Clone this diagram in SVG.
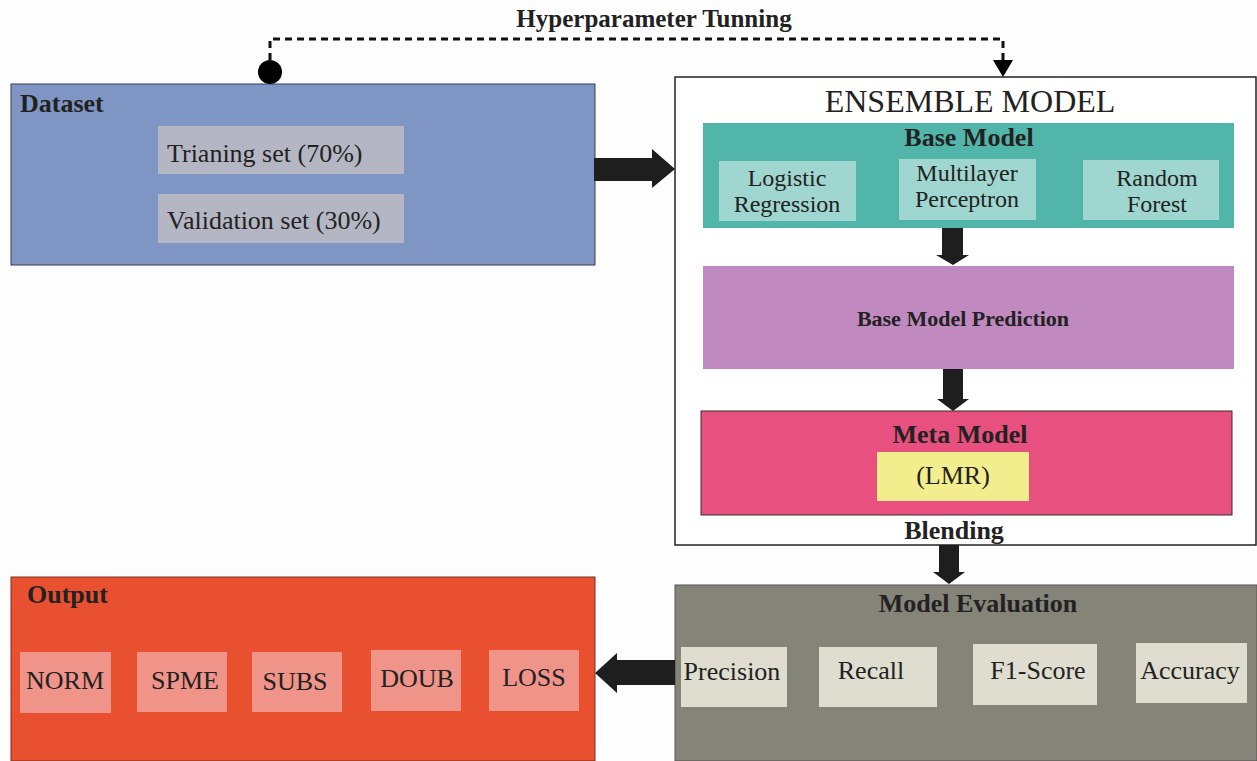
<svg xmlns="http://www.w3.org/2000/svg" width="1257" height="761" viewBox="0 0 1257 761">
<style>
text{font-family:"Liberation Serif","Times New Roman",serif;fill:#222}
.b{font-weight:bold}
.c{text-anchor:middle}
.r26{font-size:26px}
.r24{font-size:24px}
.arrow{fill:#1e1e1e}
</style>
<rect x="0" y="0" width="1257" height="761" fill="#fdfdfd"/>
<g id="dataset">
<rect x="11" y="84" width="584" height="181" fill="#7f96c5" stroke="#3a3a4a" stroke-width="1"/>
<text x="20" y="112" class="b r26">Dataset</text>
<rect x="158" y="126" width="246" height="48" fill="#b4b7c3"/>
<text x="167" y="162" class="r26">Trianing set (70%)</text>
<rect x="158" y="194" width="246" height="49" fill="#b4b7c3"/>
<text x="167" y="229" class="r26">Validation set (30%)</text>
</g>
<g id="ensemble">
<rect x="675" y="77" width="581" height="468" fill="#ffffff" stroke="#222" stroke-width="1.5"/>
<text x="970" y="112" class="c" font-size="32">ENSEMBLE MODEL</text>
</g>
<g id="base-model">
<rect x="703" y="123" width="531" height="105" fill="#52b5a9"/>
<text x="969" y="146" class="b c r26">Base Model</text>
<rect x="719" y="161" width="137" height="60" fill="#9fd6cf"/>
<text x="787" y="186" class="c r24">Logistic</text>
<text x="787" y="212" class="c r24">Regression</text>
<rect x="899" y="159" width="137" height="61" fill="#9fd6cf"/>
<text x="967" y="181" class="c r24">Multilayer</text>
<text x="967" y="207" class="c r24">Perceptron</text>
<rect x="1083" y="160" width="136" height="60" fill="#9fd6cf"/>
<text x="1157" y="186" class="c r24">Random</text>
<text x="1157" y="212" class="c r24">Forest</text>
</g>
<g id="prediction">
<rect x="703" y="266" width="531" height="103" fill="#c08ac0"/>
<text x="963" y="326" class="b c" font-size="22">Base Model Prediction</text>
</g>
<g id="meta-model">
<rect x="701" y="411" width="531" height="104" fill="#e8507f" stroke="#3a2a30" stroke-width="1"/>
<text x="960" y="443" class="b c r26">Meta Model</text>
<rect x="877" y="452" width="152" height="49" fill="#f2ee8d"/>
<text x="953" y="484" class="c r26">(LMR)</text>
</g>
<g id="evaluation">
<rect x="675" y="585" width="582" height="176" fill="#858479" stroke="#555" stroke-width="1"/>
<text x="978" y="612" class="b c r26">Model Evaluation</text>
<rect x="681" y="647" width="106" height="60" fill="#deddd0"/>
<text x="732" y="680" class="c r26">Precision</text>
<rect x="819" y="647" width="118" height="60" fill="#deddd0"/>
<text x="871" y="679" class="c r26">Recall</text>
<rect x="973" y="644" width="124" height="61" fill="#deddd0"/>
<text x="1038" y="679" class="c r26">F1-Score</text>
<rect x="1136" y="643" width="111" height="60" fill="#deddd0"/>
<text x="1190" y="679" class="c r26">Accuracy</text>
</g>
<g id="output">
<rect x="11" y="577" width="584" height="184" fill="#e8502f" stroke="#7a3020" stroke-width="1"/>
<text x="27" y="603" class="b r26">Output</text>
<rect x="20" y="652" width="91" height="61" fill="#f0948a"/>
<text x="65" y="689" class="c r26">NORM</text>
<rect x="137" y="652" width="90" height="60" fill="#f0948a"/>
<text x="185" y="689" class="c r26">SPME</text>
<rect x="252" y="652" width="90" height="60" fill="#f0948a"/>
<text x="295" y="690" class="c r26">SUBS</text>
<rect x="371" y="650" width="90" height="61" fill="#f0948a"/>
<text x="417" y="687" class="c r26">DOUB</text>
<rect x="489" y="650" width="90" height="61" fill="#f0948a"/>
<text x="534" y="686" class="c r26">LOSS</text>
</g>
<g id="connectors">
<path d="M270 60 V39 H1003 V60" fill="none" stroke="#111" stroke-width="3" stroke-dasharray="7,5"/>
<circle cx="270" cy="72" r="12" fill="#000"/>
<polygon points="993,60 1013,60 1003,77" fill="#000"/>
<text x="654" y="27" class="b c" font-size="25">Hyperparameter Tunning</text>
<polygon class="arrow" points="594,158 652,158 652,149 675,169 652,188 652,181 594,181"/>
<polygon class="arrow" points="675,660 617,660 617,653 595,673 617,693 617,685 675,685"/>
<polygon class="arrow" points="942,228 963,228 963,255 969,255 953,265 936,255 942,255"/>
<polygon class="arrow" points="943,369 963,369 963,399 969,399 953,411 937,399 943,399"/>
<polygon class="arrow" points="939,545 959,545 959,572 965,572 949,584 933,572 939,572"/>
</g>
<text x="954" y="539" class="b c r26">Blending</text>
</svg>
